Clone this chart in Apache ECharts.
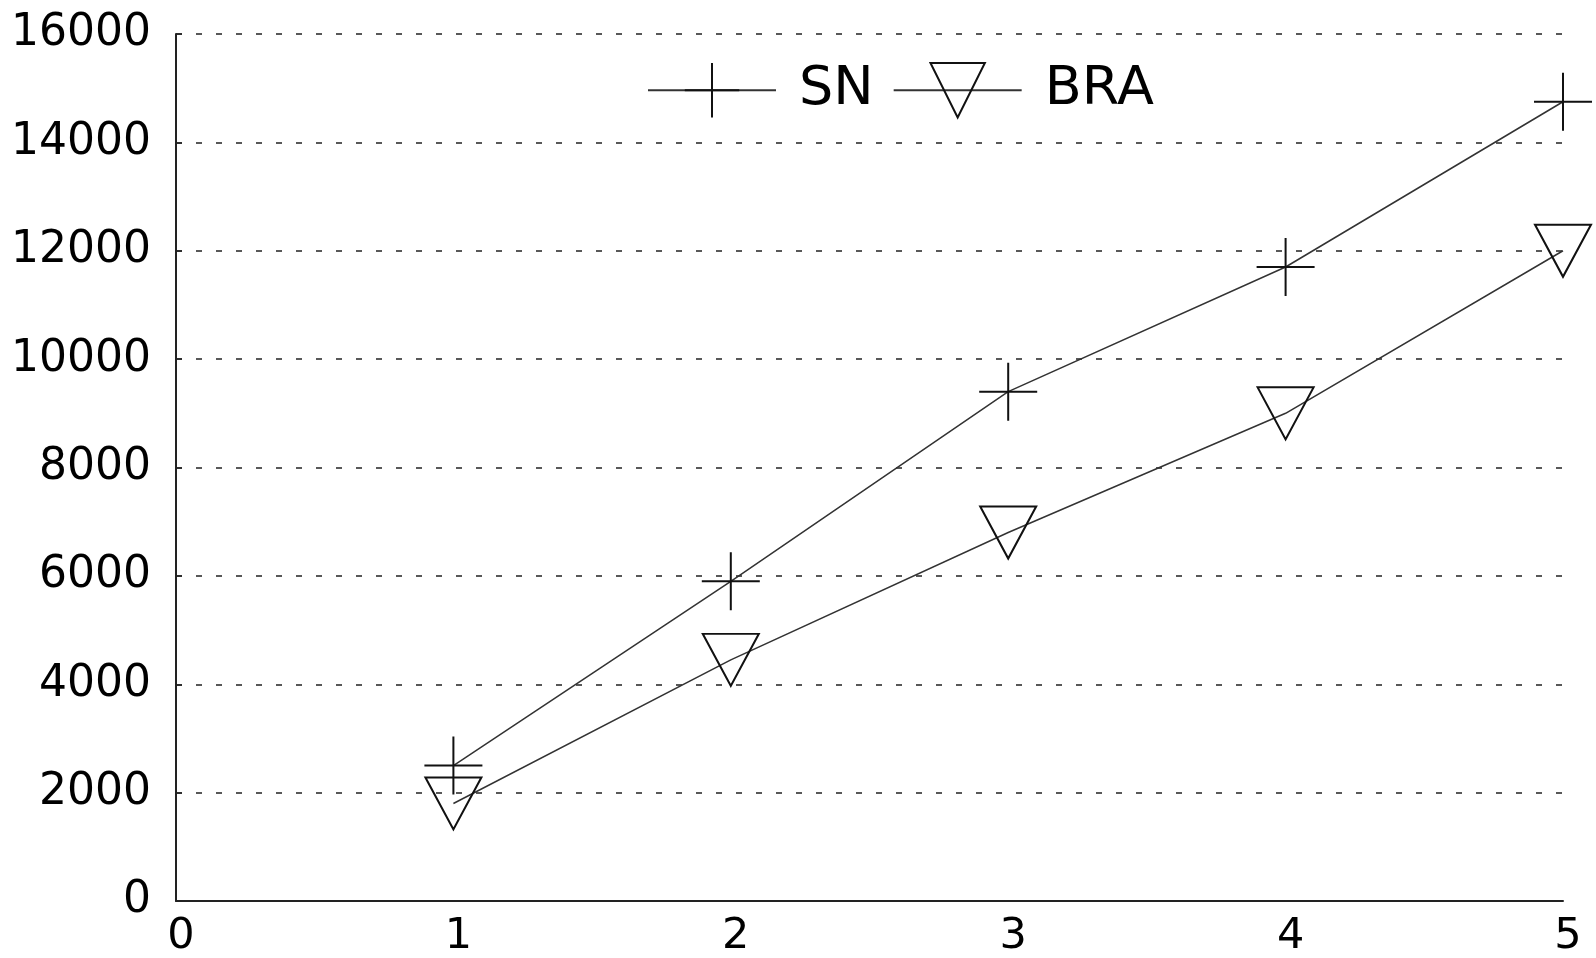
<!DOCTYPE html>
<html>
<head>
<meta charset="utf-8">
<script src="https://cdn.jsdelivr.net/npm/echarts@6/dist/echarts.min.js"></script>
<style>
  html, body { margin: 0; padding: 0; background: #fff; }
  #main { width: 1596px; height: 958px; }
</style>
</head>
<body>
<div id="main"></div>
<script>
// data
const xValues = [1, 2, 3, 4, 5];
const snValues = [2500, 5900, 9400, 11700, 14750];
const braValues = [1800, 4450, 6800, 9000, 12000];
const seriesNames = ['SN', 'BRA'];

const chart = echarts.init(document.getElementById('main'));

const pairs = (ys) => xValues.map((x, i) => [x, ys[i]]);

// marker shapes (gnuplot style)
const plusPath = 'path://M1,0L1,2M0,1L2,1';
const triDownPath = 'path://M0,0L2,0L1,1.85Z';

chart.setOption({
  animation: false,
  textStyle: { fontFamily: 'DejaVu Sans' },
  grid: { left: 176, right: 33, top: 34, bottom: 57 },
  legend: {
    data: seriesNames,
    left: 642,
    top: 57,
    itemWidth: 128,
    itemHeight: 68,
    itemGap: 19,
    textStyle: { fontSize: 54, color: '#000', fontFamily: 'DejaVu Sans', padding: [0, 0, 0, 18] }
  },
  xAxis: {
    type: 'value',
    min: 0,
    max: 5,
    interval: 1,
    axisLine: { show: true, lineStyle: { color: '#222', width: 2 } },
    axisTick: { show: false },
    splitLine: { show: false },
    axisLabel: { fontSize: 43, color: '#000', margin: 14, padding: [0, 0, 0, 10] }
  },
  yAxis: {
    type: 'value',
    min: 0,
    max: 16000,
    interval: 2000,
    axisLine: { show: true, lineStyle: { color: '#222', width: 2 } },
    axisTick: { show: true, inside: true, length: 6, lineStyle: { color: '#222', width: 1.5 } },
    splitLine: { show: true, lineStyle: { color: '#222', width: 1.5, type: [6, 14] } },
    axisLabel: { fontSize: 44, color: '#000', margin: 25, formatter: (v) => String(v) }
  },
  series: [
    {
      name: 'SN',
      type: 'line',
      data: pairs(snValues),
      symbol: plusPath,
      symbolSize: 58,
      showAllSymbol: true,
      lineStyle: { color: '#333', width: 1.5 },
      itemStyle: { color: 'rgba(0,0,0,0)', borderColor: '#111', borderWidth: 2 }
    },
    {
      name: 'BRA',
      type: 'line',
      data: pairs(braValues),
      symbol: triDownPath,
      symbolSize: [56, 52],
      showAllSymbol: true,
      lineStyle: { color: '#333', width: 1.5 },
      itemStyle: { color: 'rgba(0,0,0,0)', borderColor: '#111', borderWidth: 2 }
    }
  ]
});

window.onresize = () => {
  chart.resize();
};
</script>
</body>
</html>
